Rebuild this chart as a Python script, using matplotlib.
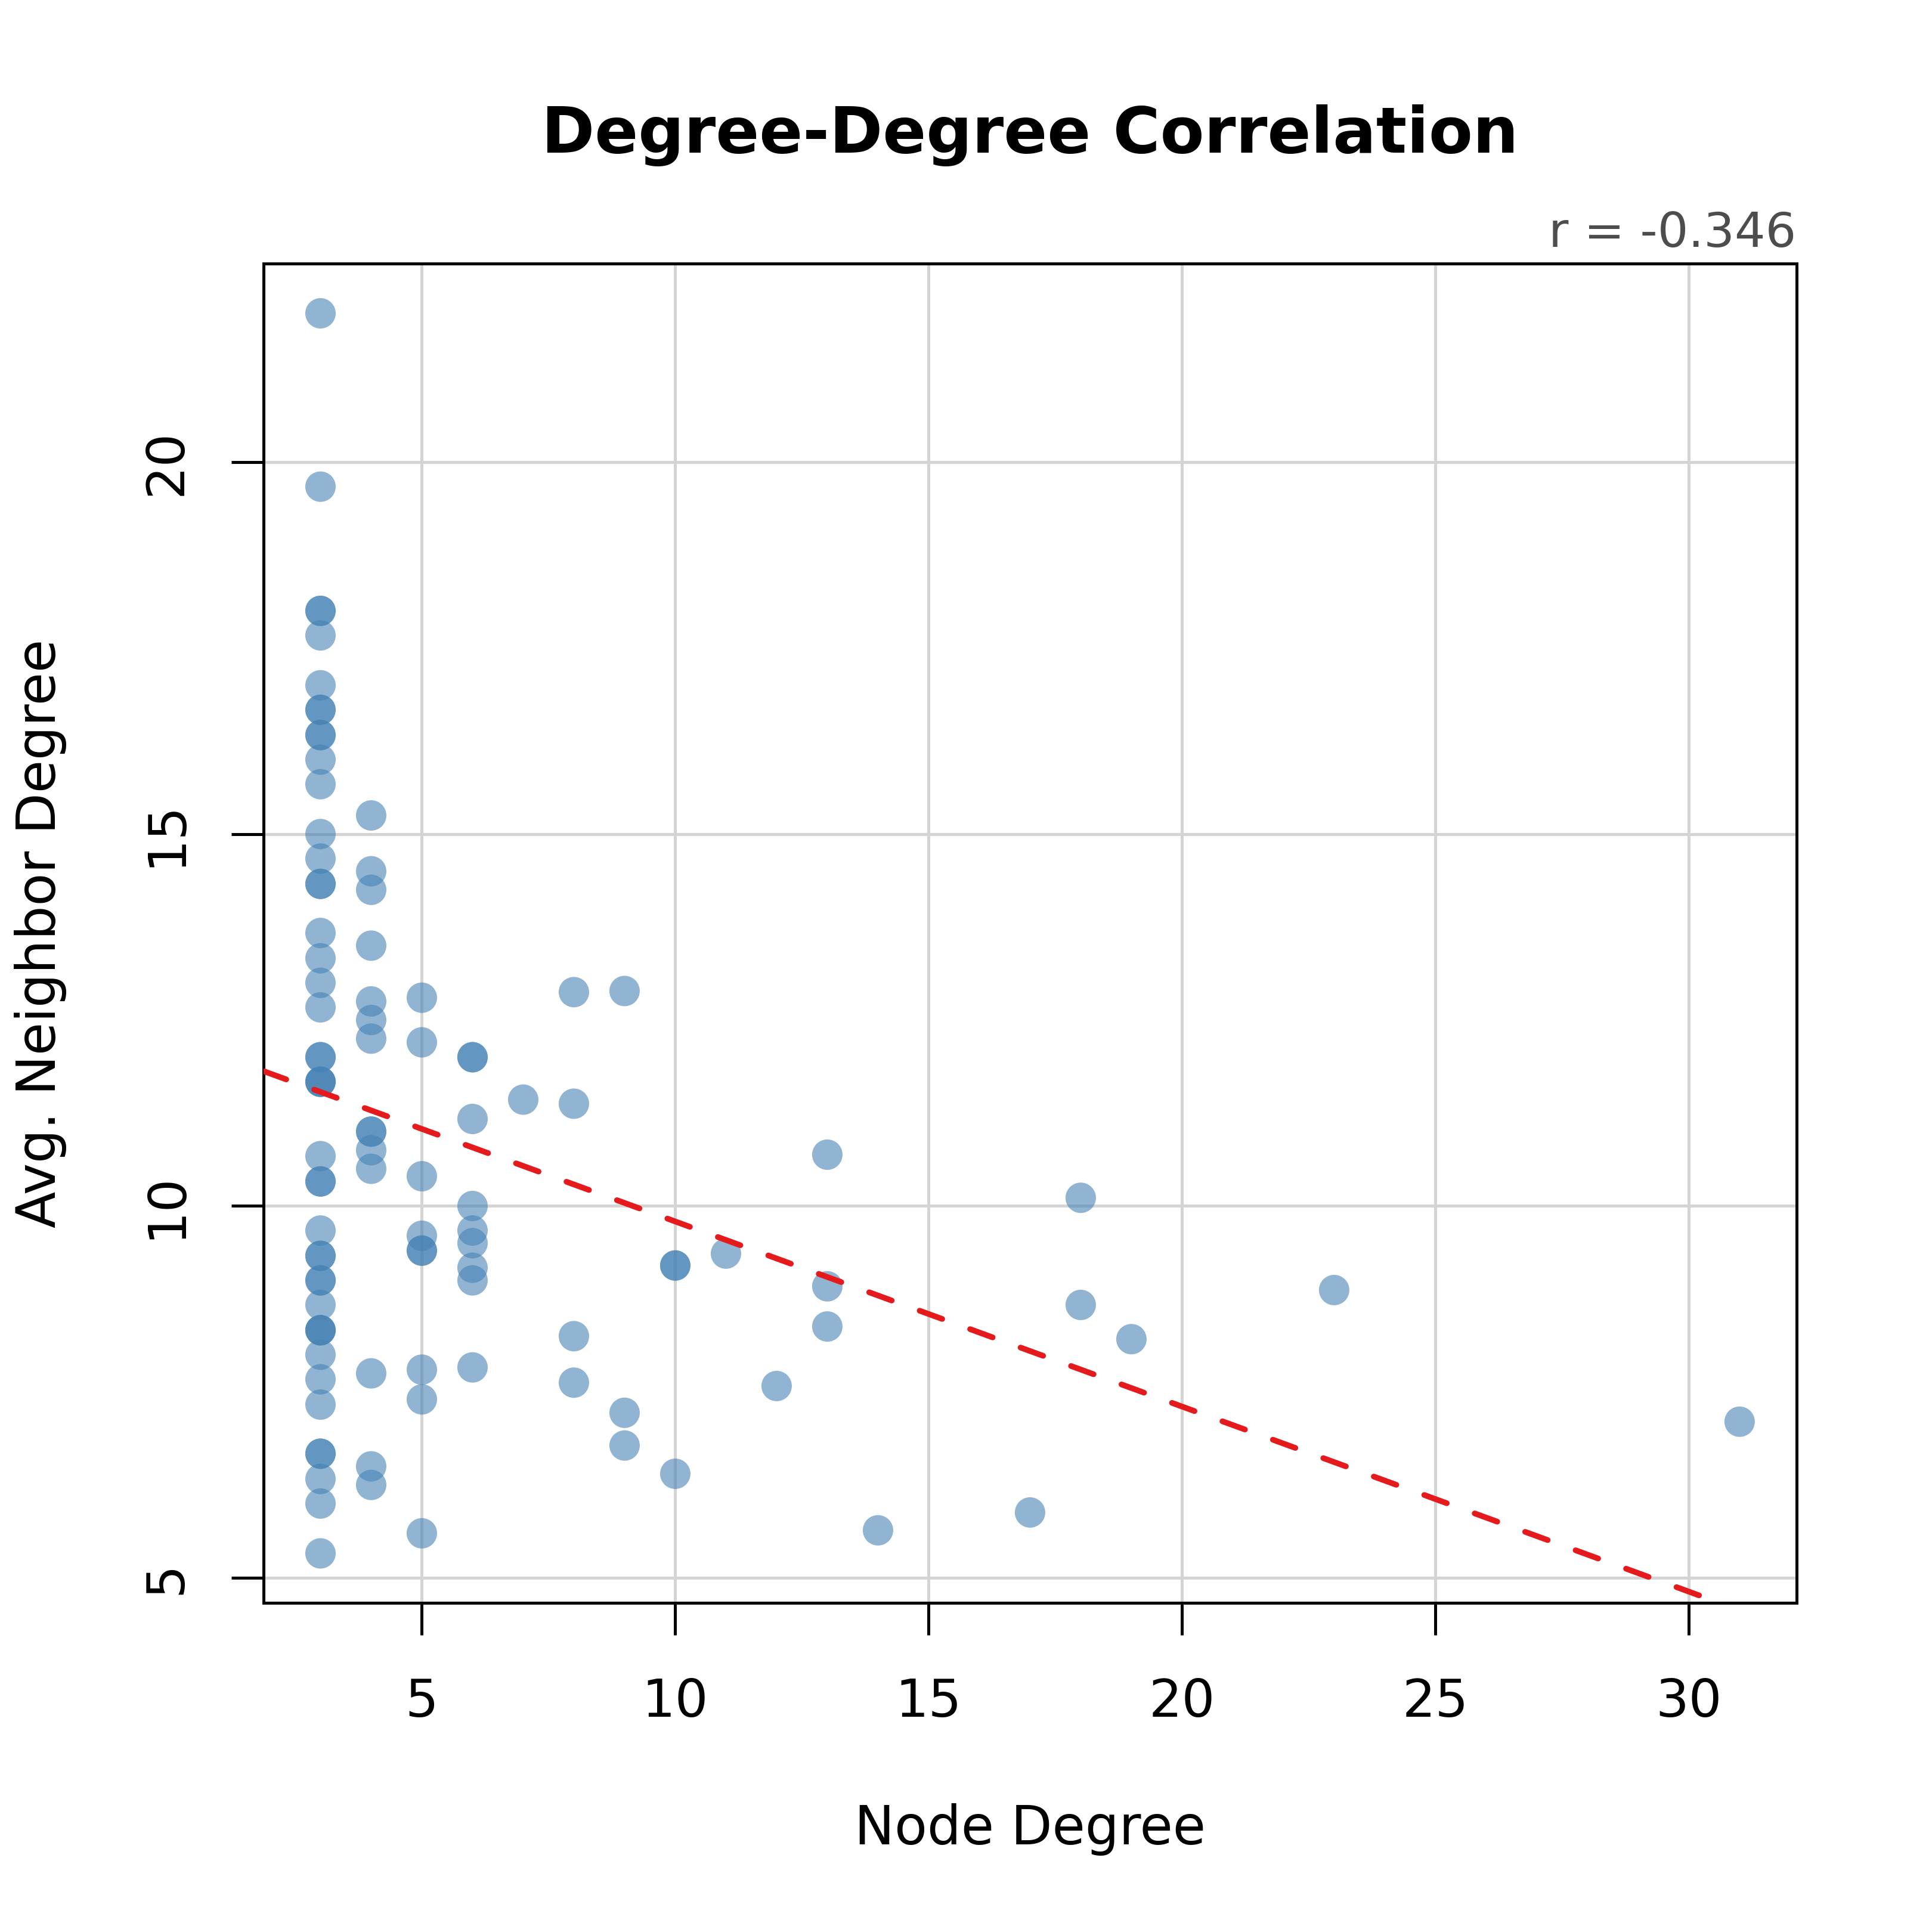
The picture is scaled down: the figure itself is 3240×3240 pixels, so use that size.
import numpy as np
import matplotlib
matplotlib.use("Agg")
import matplotlib.pyplot as plt

# node degree and average neighbour degree, one entry per node
deg_3 = [22.0, 19.67, 18.0, 18.0, 17.67, 17.0, 16.67, 16.67, 16.33, 16.33,
         16.0, 15.67, 15.0, 14.67, 14.33, 14.33, 13.67, 13.33, 13.0, 12.67,
         12.0, 12.0, 11.67, 11.67, 11.67, 10.67, 10.33, 10.33, 9.67, 9.33,
         9.33, 9.0, 9.0, 8.67, 8.33, 8.33, 8.33, 8.0, 7.67, 7.33,
         6.67, 6.67, 6.33, 6.0, 5.33]
deg_4 = [15.25, 14.5, 14.25, 13.5, 12.75, 12.5, 12.25, 11.0, 11.0, 10.75,
         10.5, 7.75, 6.5, 6.25]
deg_5 = [12.8, 12.2, 10.4, 9.6, 9.4, 9.4, 7.8, 7.4, 5.6]
deg_6 = [12.0, 12.0, 11.17, 10.0, 9.67, 9.5, 9.17, 9.0, 7.83]
deg_other = {
    7: [11.43],
    8: [12.875, 11.375, 8.25, 7.625],
    9: [12.89, 7.22, 6.78],
    10: [9.2, 9.2, 6.4],
    11: [9.36],
    12: [7.58],
    13: [10.69, 8.92, 8.38],
    14: [5.64],
    17: [5.88],
    18: [10.11, 8.67],
    19: [8.21],
    23: [8.87],
    31: [7.10],
}

node_degree = [3] * len(deg_3) + [4] * len(deg_4) + [5] * len(deg_5) + [6] * len(deg_6)
avg_neighbor = deg_3 + deg_4 + deg_5 + deg_6
for k, v in deg_other.items():
    node_degree += [k] * len(v)
    avg_neighbor += v

x = np.array(node_degree, dtype=float)
y = np.array(avg_neighbor, dtype=float)
r_value = -0.346

plt.rcParams["font.family"] = "DejaVu Sans"

fig = plt.figure(figsize=(10.8, 10.8), dpi=300)
ax = fig.add_axes([0.1365, 0.1703, 0.7933, 0.6932])

ax.grid(True, color="#d4d4d4", linewidth=1.2, zorder=0)
ax.scatter(x, y, s=150, color="steelblue", alpha=0.6, edgecolors="none", zorder=2)

slope, intercept = np.polyfit(x, y, 1)
xr = x.max() - x.min()
yr = y.max() - y.min()
xlim = (x.min() - 0.04 * xr, x.max() + 0.04 * xr)
ylim = (y.min() - 0.04 * yr, y.max() + 0.04 * yr)
xx = np.array(xlim)
ax.plot(xx, intercept + slope * xx, color="#E41A1C", linewidth=2.3,
        linestyle=(0, (4.2, 5.2)), dash_capstyle="round", zorder=3)
ax.set_xlim(xlim)
ax.set_ylim(ylim)

ax.set_xticks([5, 10, 15, 20, 25, 30])
ax.set_yticks([5, 10, 15, 20])
ax.tick_params(axis="both", direction="out", length=13, width=1.2,
               labelsize=21, color="black")
ax.tick_params(axis="x", pad=17)
ax.tick_params(axis="y", pad=16)
for lab in ax.get_yticklabels():
    lab.set_rotation(90)
    lab.set_va("center")
for sp in ax.spines.values():
    sp.set_linewidth(1.2)
    sp.set_color("black")

ax.set_xlabel("Node Degree", fontsize=21.5)
ax.set_ylabel("Avg. Neighbor Degree", fontsize=21.5)
ax.xaxis.set_label_coords(0.5, -0.169)
ax.xaxis.label.set_va("center")
ax.yaxis.set_label_coords(-0.1455, 0.5)
ax.yaxis.label.set_va("center")

fig.text(0.533, 0.9298, "Degree-Degree Correlation", fontsize=25.8,
         fontweight="bold", ha="center", va="center")
ax.annotate("r = %.3f" % r_value, xy=(1, 1), xycoords="axes fraction",
            xytext=(0, 6.7), textcoords="offset points", ha="right",
            va="baseline", fontsize=19.5, color="#4D4D4D")

fig.savefig("out.png", dpi=300)
